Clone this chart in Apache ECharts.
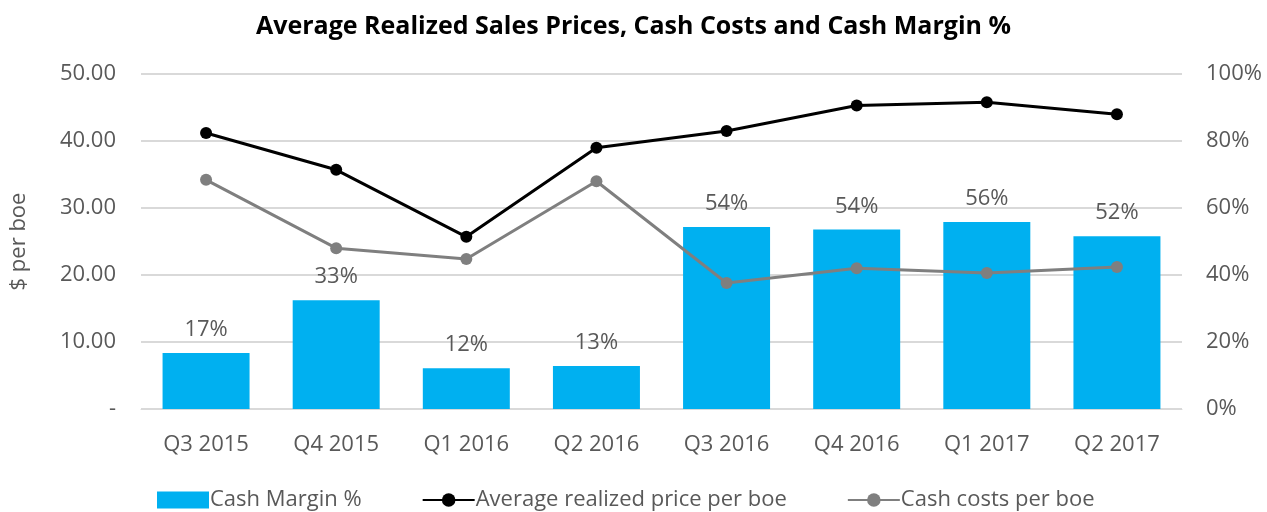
<!DOCTYPE html>
<html>
<head>
<meta charset="utf-8">
<script src="https://cdn.jsdelivr.net/npm/echarts@6/dist/echarts.min.js"></script>
<style>
  html, body { margin: 0; padding: 0; background: #fff; }
  #chart { width: 1267px; height: 512px; }
</style>
</head>
<body>
<div id="chart"></div>
<script>
const quarters = ['Q3 2015', 'Q4 2015', 'Q1 2016', 'Q2 2016', 'Q3 2016', 'Q4 2016', 'Q1 2017', 'Q2 2017']
// cash margin in %
const cashMargin = [16.7, 32.5, 12.2, 12.8, 54.3, 53.6, 55.8, 51.6]
// $ per boe
const avgPrice = [41.2, 35.7, 25.7, 39.0, 41.5, 45.3, 45.8, 44.0]
const cashCosts = [34.2, 24.0, 22.4, 34.0, 18.8, 21.0, 20.3, 21.2]
const leftTicks = [0, 10, 20, 30, 40, 50]
const rightTicks = [0, 20, 40, 60, 80, 100]

const font = '"Open Sans", "Noto Sans", sans-serif'
const grey = '#595959'

const chart = echarts.init(document.getElementById('chart'))

chart.setOption({
  animation: false,
  textStyle: { fontFamily: font },
  title: {
    text: 'Average Realized Sales Prices, Cash Costs and Cash Margin %',
    left: 'center',
    top: 9,
    textStyle: { fontSize: 25, fontWeight: 'bold', color: '#000', fontFamily: font }
  },
  grid: { left: 138, right: 85, top: 74, bottom: 103 },
  legend: {
    top: 484,
    left: 152,
    itemGap: 60,
    itemWidth: 52,
    itemHeight: 17,
    textStyle: { fontSize: 22, color: grey, fontFamily: font, padding: [0, 0, 0, -4] },
    data: [
      { name: 'Cash Margin %', icon: 'rect' },
      { name: 'Average realized price per boe' },
      { name: 'Cash costs per boe' }
    ]
  },
  xAxis: {
    type: 'category',
    data: quarters,
    axisLine: { lineStyle: { color: '#d9d9d9', width: 1 } },
    axisTick: { show: false },
    axisLabel: { fontSize: 22, color: grey, margin: 25 }
  },
  yAxis: [
    {
      type: 'value',
      min: leftTicks[0],
      max: leftTicks[leftTicks.length - 1],
      interval: 10,
      name: '$ per boe',
      nameLocation: 'middle',
      nameGap: 111,
      nameTextStyle: { fontSize: 22, color: grey },
      axisLine: { show: false },
      axisTick: { show: false },
      splitLine: { lineStyle: { color: '#d9d9d9', width: 2 } },
      axisLabel: {
        fontSize: 22,
        color: grey,
        margin: 25,
        formatter: v => v === 0 ? '-' : v.toFixed(2)
      }
    },
    {
      type: 'value',
      min: rightTicks[0],
      max: rightTicks[rightTicks.length - 1],
      interval: 20,
      position: 'right',
      axisLine: { show: false },
      axisTick: { show: false },
      splitLine: { show: false },
      axisLabel: { fontSize: 22, color: grey, margin: 24, formatter: '{value}%' }
    }
  ],
  series: [
    {
      name: 'Cash Margin %',
      type: 'bar',
      yAxisIndex: 1,
      data: cashMargin,
      barWidth: 87,
      itemStyle: { color: '#00b0f0' },
      label: {
        show: true,
        position: 'top',
        distance: 12,
        fontSize: 22,
        color: grey,
        formatter: p => Math.round(p.value) + '%'
      },
      z: 1
    },
    {
      name: 'Average realized price per boe',
      type: 'line',
      data: avgPrice,
      symbol: 'circle',
      symbolSize: 12,
      lineStyle: { color: '#000', width: 3 },
      itemStyle: { color: '#000' },
      z: 3
    },
    {
      name: 'Cash costs per boe',
      type: 'line',
      data: cashCosts,
      symbol: 'circle',
      symbolSize: 12,
      lineStyle: { color: '#7f7f7f', width: 3 },
      itemStyle: { color: '#7f7f7f' },
      z: 2
    }
  ]
})
</script>
</body>
</html>
